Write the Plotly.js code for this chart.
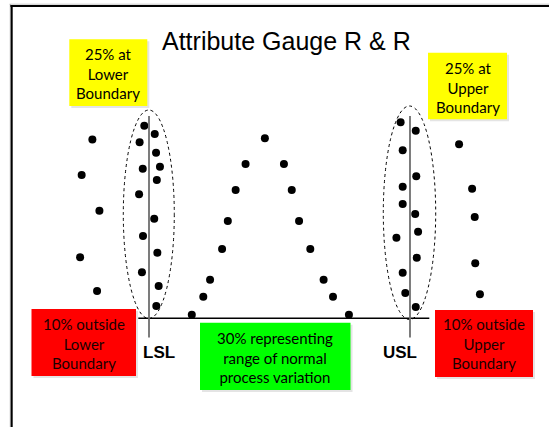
<!DOCTYPE html>
<html><head><meta charset="utf-8">
<script src="https://cdn.plot.ly/plotly-3.0.1.min.js"></script>
<style>html,body{margin:0;padding:0;background:#fff;overflow:hidden;}#chart{width:549px;height:427px;}</style>
</head><body><div id="chart"></div>
<script>
// x: measurement position (LSL = 0, USL = 100); y: height above the baseline
const lowerOutsideX = [-21.7, -25.8, -19.0, -26.4, -19.9];
const lowerOutsideY = [99.4, 79.6, 59.8, 33.9, 15.2];
const lowerBoundaryX = [-1.8, 2.2, -3.6, 2.7, -2.4, 4.2, 3.0, -3.8, 2.0, -2.3, 3.2, -2.7, 3.7, 2.8];
const lowerBoundaryY = [107.0, 102.4, 97.8, 92.0, 83.1, 84.2, 76.8, 68.9, 55.3, 45.7, 36.4, 25.6, 17.9, 6.8];
const normalX = [16.4, 20.8, 23.4, 28.0, 30.2, 33.2, 37.0, 44.4, 51.7, 54.7, 57.5, 61.8, 66.9, 70.5, 76.6];
const normalY = [2.0, 12.0, 21.4, 38.5, 54.1, 71.3, 85.7, 100.0, 85.7, 71.3, 54.1, 38.5, 21.4, 12.0, 2.0];
const upperBoundaryX = [96.4, 102.2, 97.2, 102.4, 97.2, 97.2, 102.0, 103.1, 94.8, 102.6, 97.2, 98.2, 102.2];
const upperBoundaryY = [108.9, 104.2, 93.3, 78.9, 73.1, 63.5, 57.9, 48.1, 44.8, 33.7, 25.3, 14.1, 6.3];
const upperOutsideX = [118.8, 123.8, 124.8, 125.0, 126.8];
const upperOutsideY = [96.7, 72.0, 56.3, 30.6, 13.3];
const specLimits = [0, 100];
const specLabels = ['LSL', 'USL'];
const titleText = 'Attribute Gauge R &amp; R';
const boxTexts = [
  '25% at<br>Lower<br>Boundary',
  '25% at<br>Upper<br>Boundary',
  '10% outside<br>Lower<br>Boundary',
  '10% outside<br>Upper<br>Boundary',
  '30% representing<br>range of normal<br>process variation'
];

const W = 549, H = 427;
const px = v => v / W;
const py = v => 1 - v / H;

function dots(x, y) {
  return {x: x, y: y, type: 'scatter', mode: 'markers', hoverinfo: 'skip',
    marker: {color: '#000', size: 8, line: {width: 0}}, showlegend: false};
}
const data = [
  dots(lowerOutsideX, lowerOutsideY),
  dots(lowerBoundaryX, lowerBoundaryY),
  dots(normalX, normalY),
  dots(upperBoundaryX, upperBoundaryY),
  dots(upperOutsideX, upperOutsideY)
];

// boxes: [x0, x1, y0, y1, colour, text index, text centre x, text centre y, text colour]
const boxes = [
  [69.3, 147.3, 39.3, 106, '#FFFF00', 0, 108.3, 74, '#000'],
  [428, 507, 52.7, 119.3, '#FFFF00', 1, 467.5, 87.5, '#000'],
  [31.5, 136, 309, 376, '#FF0000', 2, 83.5, 343.5, '#1a0000'],
  [435, 533, 310, 377, '#FF0000', 3, 484, 343.5, '#1a0000'],
  [200, 350.5, 322.7, 390, '#00FF00', 4, 275, 357.5, '#000']
];

const shapes = [];
const annotations = [];

// frame
shapes.push({type: 'line', xref: 'paper', yref: 'paper', x0: px(9.5), x1: px(549), y0: py(4.2), y1: py(4.2), line: {color: '#c8c8c8', width: 1}});
shapes.push({type: 'line', xref: 'paper', yref: 'paper', x0: px(10.3), x1: px(10.3), y0: py(4), y1: py(427), line: {color: '#b0b0b0', width: 1}});
shapes.push({type: 'line', xref: 'paper', yref: 'paper', x0: px(10.5), x1: px(549), y0: py(6), y1: py(6), line: {color: '#000', width: 2}});
shapes.push({type: 'line', xref: 'paper', yref: 'paper', x0: px(11.7), x1: px(11.7), y0: py(5), y1: py(427), line: {color: '#000', width: 2}});

// boxes
boxes.forEach(b => {
  shapes.push({type: 'rect', xref: 'paper', yref: 'paper', x0: px(b[0] + 2), x1: px(b[1] + 2), y0: py(b[2] + 2), y1: py(b[3] + 2), fillcolor: '#e4e4e4', line: {width: 0}, layer: 'below'});
  shapes.push({type: 'rect', xref: 'paper', yref: 'paper', x0: px(b[0]), x1: px(b[1]), y0: py(b[2]), y1: py(b[3]), fillcolor: b[4], line: {width: 0}, layer: 'below'});
  annotations.push({xref: 'paper', yref: 'paper', x: px(b[6]), y: py(b[7]), xanchor: 'center', yanchor: 'middle',
    text: boxTexts[b[5]], showarrow: false, align: 'center',
    font: {family: 'Lato, "Open Sans", sans-serif', size: 15, color: b[8]}});
});

// ellipses around the boundary clusters
shapes.push({type: 'circle', xref: 'paper', yref: 'paper', x0: px(123.3), x1: px(174.3), y0: py(110), y1: py(318.5), line: {color: '#000', width: 1, dash: 'dot'}});
shapes.push({type: 'circle', xref: 'paper', yref: 'paper', x0: px(383.3), x1: px(435.7), y0: py(106), y1: py(319.5), line: {color: '#000', width: 1, dash: 'dot'}});

// baseline
shapes.push({type: 'line', xref: 'x', yref: 'y', x0: -4.1, x1: 107.4, y0: 0, y1: 0, line: {color: '#000', width: 1.5}});

// spec limit lines and labels
specLimits.forEach((s, i) => {
  shapes.push({type: 'line', xref: 'x', yref: 'paper', x0: s, x1: s, y0: py(116), y1: py(337.5), line: {color: '#6e6e6e', width: 1.8}});
  annotations.push({xref: 'x', yref: 'paper', x: s, y: py(352), xshift: i === 0 ? 10 : -10,
    xanchor: 'center', yanchor: 'middle', text: '<b>' + specLabels[i] + '</b>', showarrow: false,
    font: {family: 'Liberation Sans, Arial, sans-serif', size: 17, color: '#000'}});
});

// title
annotations.push({xref: 'paper', yref: 'paper', x: px(286), y: py(40.5), xanchor: 'center', yanchor: 'middle',
  text: titleText, showarrow: false, font: {family: 'Liberation Sans, Arial, sans-serif', size: 25, color: '#000'}});

const layout = {
  width: W, height: H,
  margin: {l: 0, r: 0, t: 0, b: 0, pad: 0},
  paper_bgcolor: '#fff', plot_bgcolor: '#fff',
  xaxis: {range: [-57.09, 153.26], visible: false, fixedrange: true},
  yaxis: {range: [-60.39, 176.83], visible: false, fixedrange: true},
  shapes: shapes,
  annotations: annotations,
  showlegend: false
};

Plotly.newPlot('chart', data, layout, {staticPlot: true, displayModeBar: false});
</script>
</body></html>
